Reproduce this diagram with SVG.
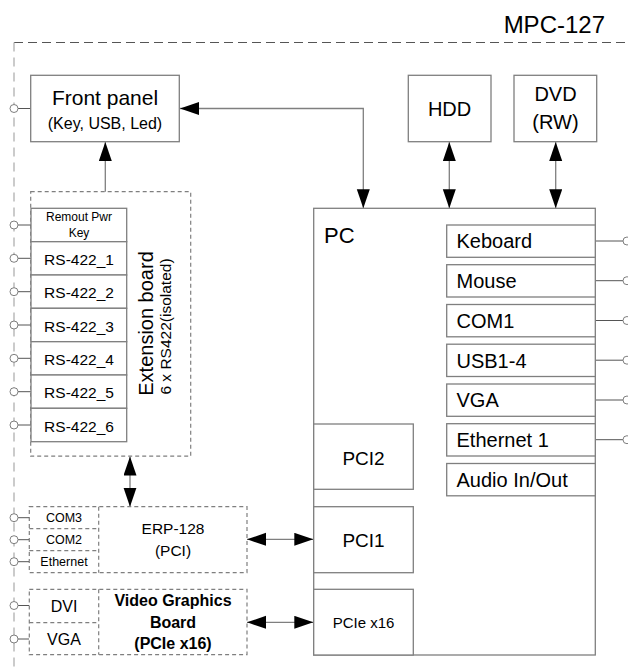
<svg xmlns="http://www.w3.org/2000/svg" width="628" height="669" viewBox="0 0 628 669">
<style>
text{font-family:"Liberation Sans",Arial,sans-serif;fill:#000}
.box{fill:#fff;stroke:#7f7f7f;stroke-width:1.3}
.dbox{fill:#fff;stroke:#7f7f7f;stroke-width:1.2;stroke-dasharray:4 3}
.dl{fill:none;stroke:#7f7f7f;stroke-width:1.2;stroke-dasharray:4 3}
.pin{fill:#fff;stroke:#7f7f7f;stroke-width:1}
.lead{stroke:#555;stroke-width:1;fill:none}
.conn{fill:none;stroke:#7f7f7f;stroke-width:1.3}
.c{text-anchor:middle}
</style>
<defs>
<marker id="ah" markerUnits="userSpaceOnUse" markerWidth="20" markerHeight="14" refX="19" refY="6.5" orient="auto-start-reverse">
<path d="M0,0 L19,6.5 L0,13 z" fill="#000"/>
</marker>
</defs>
<g id="frame">
<line x1="14" y1="42.5" x2="626" y2="42.5" stroke="#555" stroke-width="1.2" stroke-dasharray="9 5"/>
<line x1="14" y1="42.5" x2="14" y2="669" stroke="#bbb" stroke-width="1.5" stroke-dasharray="9 6"/>
<text x="605" y="33" font-size="24" text-anchor="end">MPC-127</text>
</g>
<g id="connectors">
<path class="conn" d="M180,108.5 H363.3 V208.3" marker-start="url(#ah)" marker-end="url(#ah)"/>
<path class="conn" d="M105.3,192 V142" marker-end="url(#ah)"/>
<path class="conn" d="M449.3,142 V208.3" marker-start="url(#ah)" marker-end="url(#ah)"/>
<path class="conn" d="M555.7,142 V208.3" marker-start="url(#ah)" marker-end="url(#ah)"/>
<path class="conn" d="M130,456.5 V506.7" stroke="#aaa" marker-start="url(#ah)" marker-end="url(#ah)"/>
<path class="conn" d="M247,539.3 H313.3" marker-start="url(#ah)" marker-end="url(#ah)"/>
<path class="conn" d="M247,622.3 H313.3" marker-start="url(#ah)" marker-end="url(#ah)"/>
</g>
<g id="front-panel">
<line class="lead" x1="18" y1="108.5" x2="31" y2="108.5"/>
<circle class="pin" cx="14" cy="108.5" r="4"/>
<rect class="box" x="30.7" y="75.3" width="148.6" height="66.4"/>
<text class="c" x="105" y="105" font-size="21">Front panel</text>
<text class="c" x="105" y="128.5" font-size="16">(Key, USB, Led)</text>
</g>
<g id="hdd">
<rect class="box" x="408.3" y="75.3" width="82.7" height="66.4"/>
<text class="c" x="449.6" y="115.5" font-size="20">HDD</text>
</g>
<g id="dvd">
<rect class="box" x="514" y="75.3" width="82.7" height="66.4"/>
<text class="c" x="555.5" y="101" font-size="20">DVD</text>
<text class="c" x="555.5" y="129" font-size="20">(RW)</text>
</g>
<g id="extension-board">
<rect class="dbox" x="30.7" y="191.7" width="160" height="264.5"/>
<g class="lead">
<line x1="18" y1="225" x2="31" y2="225"/>
<line x1="18" y1="258.3" x2="31" y2="258.3"/>
<line x1="18" y1="291.7" x2="31" y2="291.7"/>
<line x1="18" y1="325" x2="31" y2="325"/>
<line x1="18" y1="358.3" x2="31" y2="358.3"/>
<line x1="18" y1="391.7" x2="31" y2="391.7"/>
<line x1="18" y1="425" x2="31" y2="425"/>
</g>
<circle class="pin" cx="14" cy="225" r="4"/>
<circle class="pin" cx="14" cy="258.3" r="4"/>
<circle class="pin" cx="14" cy="291.7" r="4"/>
<circle class="pin" cx="14" cy="325" r="4"/>
<circle class="pin" cx="14" cy="358.3" r="4"/>
<circle class="pin" cx="14" cy="391.7" r="4"/>
<circle class="pin" cx="14" cy="425" r="4"/>
<rect class="box" x="31" y="208.3" width="95.7" height="33.4"/>
<rect class="box" x="31" y="241.7" width="95.7" height="33.3"/>
<rect class="box" x="31" y="275" width="95.7" height="33.3"/>
<rect class="box" x="31" y="308.3" width="95.7" height="33.4"/>
<rect class="box" x="31" y="341.7" width="95.7" height="33.3"/>
<rect class="box" x="31" y="375" width="95.7" height="33.3"/>
<rect class="box" x="31" y="408.3" width="95.7" height="33.4"/>
<text class="c" x="79" y="221" font-size="12">Remout Pwr</text>
<text class="c" x="79" y="236.5" font-size="12">Key</text>
<text class="c" x="79" y="265" font-size="15.5">RS-422_1</text>
<text class="c" x="79" y="298.3" font-size="15.5">RS-422_2</text>
<text class="c" x="79" y="331.7" font-size="15.5">RS-422_3</text>
<text class="c" x="79" y="365" font-size="15.5">RS-422_4</text>
<text class="c" x="79" y="398.3" font-size="15.5">RS-422_5</text>
<text class="c" x="79" y="431.7" font-size="15.5">RS-422_6</text>
<text class="c" transform="translate(153,323.5) rotate(-90)" font-size="20">Extension board</text>
<text class="c" transform="translate(171,326.5) rotate(-90)" font-size="15.5">6 x RS422(isolated)</text>
</g>
<g id="erp-128">
<rect class="dbox" x="29.3" y="506.7" width="217.7" height="66"/>
<line class="dl" x1="98.7" y1="506.7" x2="98.7" y2="572.7"/>
<line class="dl" x1="29.3" y1="528.7" x2="98.7" y2="528.7"/>
<line class="dl" x1="29.3" y1="550.7" x2="98.7" y2="550.7"/>
<g class="lead">
<line x1="18" y1="517.7" x2="29" y2="517.7"/>
<line x1="18" y1="539.7" x2="29" y2="539.7"/>
<line x1="18" y1="561.7" x2="29" y2="561.7"/>
</g>
<circle class="pin" cx="14" cy="517.7" r="4"/>
<circle class="pin" cx="14" cy="539.7" r="4"/>
<circle class="pin" cx="14" cy="561.7" r="4"/>
<text class="c" x="64" y="522" font-size="12.5">COM3</text>
<text class="c" x="64" y="544" font-size="12.5">COM2</text>
<text class="c" x="64" y="566" font-size="12.5">Ethernet</text>
<text class="c" x="173" y="533.5" font-size="15.5">ERP-128</text>
<text class="c" x="173" y="556" font-size="15.5">(PCI)</text>
</g>
<g id="video-graphics-board">
<rect class="dbox" x="29.3" y="589.3" width="217.7" height="65.4"/>
<line class="dl" x1="98.7" y1="589.3" x2="98.7" y2="654.7"/>
<line class="dl" x1="29.3" y1="622.7" x2="98.7" y2="622.7"/>
<g class="lead">
<line x1="18" y1="605.5" x2="29" y2="605.5"/>
<line x1="18" y1="639" x2="29" y2="639"/>
</g>
<circle class="pin" cx="14" cy="605.5" r="4"/>
<circle class="pin" cx="14" cy="639" r="4"/>
<text class="c" x="64" y="612" font-size="16">DVI</text>
<text class="c" x="64" y="645" font-size="16">VGA</text>
<text class="c" x="173" y="606" font-size="16" font-weight="bold">Video Graphics</text>
<text class="c" x="173" y="627.5" font-size="16" font-weight="bold">Board</text>
<text class="c" x="173" y="649" font-size="16" font-weight="bold">(PCIe x16)</text>
</g>
<g id="pc">
<rect class="box" x="313.7" y="208.3" width="281.6" height="446.7"/>
<text x="324" y="242.5" font-size="22">PC</text>
</g>
<g id="pci2">
<rect class="box" x="313.7" y="424" width="99.6" height="65.3"/>
<text class="c" x="363.5" y="465" font-size="19">PCI2</text>
</g>
<g id="pci1">
<rect class="box" x="313.7" y="506.7" width="99.6" height="66"/>
<text class="c" x="363.5" y="547" font-size="19">PCI1</text>
</g>
<g id="pcie-x16">
<rect class="box" x="313.7" y="589.3" width="99.6" height="65.7"/>
<text class="c" x="363.5" y="627.5" font-size="15">PCIe x16</text>
</g>
<g id="pc-ports">
<g class="lead">
<line x1="595.3" y1="241" x2="623" y2="241"/>
<line x1="595.3" y1="280.7" x2="623" y2="280.7"/>
<line x1="595.3" y1="320.5" x2="623" y2="320.5"/>
<line x1="595.3" y1="360.2" x2="623" y2="360.2"/>
<line x1="595.3" y1="400" x2="623" y2="400"/>
<line x1="595.3" y1="439.7" x2="623" y2="439.7"/>
</g>
<circle class="pin" cx="627" cy="241" r="4"/>
<circle class="pin" cx="627" cy="280.7" r="4"/>
<circle class="pin" cx="627" cy="320.5" r="4"/>
<circle class="pin" cx="627" cy="360.2" r="4"/>
<circle class="pin" cx="627" cy="400" r="4"/>
<circle class="pin" cx="627" cy="439.7" r="4"/>
<rect class="box" x="446.7" y="225" width="148.6" height="32.3"/>
<rect class="box" x="446.7" y="264.7" width="148.6" height="32.3"/>
<rect class="box" x="446.7" y="304.5" width="148.6" height="32.3"/>
<rect class="box" x="446.7" y="344.2" width="148.6" height="32.3"/>
<rect class="box" x="446.7" y="384" width="148.6" height="32.3"/>
<rect class="box" x="446.7" y="423.7" width="148.6" height="32.3"/>
<rect class="box" x="446.7" y="463.5" width="148.6" height="32.3"/>
<text x="456.5" y="248.3" font-size="20">Keboard</text>
<text x="456.5" y="288" font-size="20">Mouse</text>
<text x="456.5" y="327.8" font-size="20">COM1</text>
<text x="456.5" y="367.5" font-size="20">USB1-4</text>
<text x="456.5" y="407.3" font-size="20">VGA</text>
<text x="456.5" y="447" font-size="20">Ethernet 1</text>
<text x="456.5" y="486.8" font-size="20">Audio In/Out</text>
</g>
</svg>
